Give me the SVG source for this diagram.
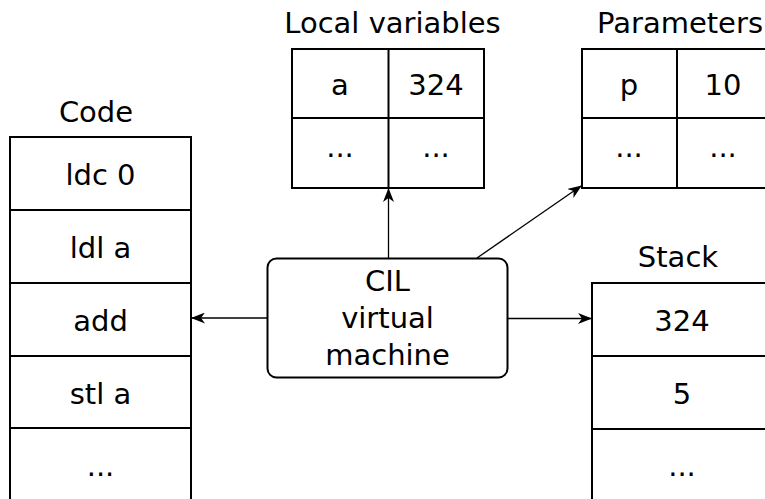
<svg xmlns="http://www.w3.org/2000/svg" width="765" height="499" viewBox="0 0 765 499">
<style>
.box{fill:#fff;stroke:#000;stroke-width:2}
.ln{stroke:#000;stroke-width:2;fill:none}
.t{font-family:"DejaVu Sans",sans-serif;font-size:29px;fill:#000;text-anchor:middle}
.c{stroke:#000;stroke-width:1.3;fill:none;marker-end:url(#ah)}
</style>
<defs>
<marker id="ah" viewBox="0 0 14 11" refX="13" refY="5.5" markerWidth="14" markerHeight="11" markerUnits="userSpaceOnUse" orient="auto">
<path d="M0,0 L14,5.5 L0,11 L4,5.5 Z" fill="#000"/>
</marker>
</defs>
<rect width="765" height="499" fill="#fff"/>
<g id="code">
<text class="t" x="96" y="122">Code</text>
<rect class="box" x="10" y="137" width="181" height="380"/>
<path class="ln" d="M10,210H191M10,283H191M10,356H191M10,428H191"/>
<text class="t" x="100.5" y="185">ldc 0</text>
<text class="t" x="100.5" y="258">ldl a</text>
<text class="t" x="100.5" y="331">add</text>
<text class="t" x="100.5" y="404">stl a</text>
<text class="t" x="100.5" y="476">...</text>
</g>
<g id="locals">
<text class="t" x="392.5" y="32.5">Local variables</text>
<rect class="box" x="292" y="49" width="192" height="139"/>
<path class="ln" d="M292,118H484M388.5,49V188"/>
<text class="t" x="340" y="95">a</text>
<text class="t" x="436" y="95">324</text>
<text class="t" x="340" y="157">...</text>
<text class="t" x="436" y="157">...</text>
</g>
<g id="params">
<text class="t" x="680" y="32.5">Parameters</text>
<rect class="box" x="582" y="49" width="190" height="139"/>
<path class="ln" d="M582,118H772M677,49V188"/>
<text class="t" x="629" y="95">p</text>
<text class="t" x="723" y="95">10</text>
<text class="t" x="629" y="157">...</text>
<text class="t" x="723" y="157">...</text>
</g>
<g id="stack">
<text class="t" x="678" y="267">Stack</text>
<rect class="box" x="592" y="283" width="181" height="240"/>
<path class="ln" d="M592,356H773M592,429H773"/>
<text class="t" x="682" y="331">324</text>
<text class="t" x="682" y="404">5</text>
<text class="t" x="682" y="476">...</text>
</g>
<g id="vm">
<rect class="box" x="267.5" y="258.5" width="240" height="119" rx="9"/>
<text class="t" x="387.5" y="291">CIL</text>
<text class="t" x="387.5" y="328">virtual</text>
<text class="t" x="387.5" y="365">machine</text>
</g>
<g id="connectors">
<path class="c" d="M388.5,258V189"/>
<path class="c" d="M477,258L581,186"/>
<path class="c" d="M267,318H192"/>
<path class="c" d="M508,318.5L591,318.5"/>
</g>
</svg>
